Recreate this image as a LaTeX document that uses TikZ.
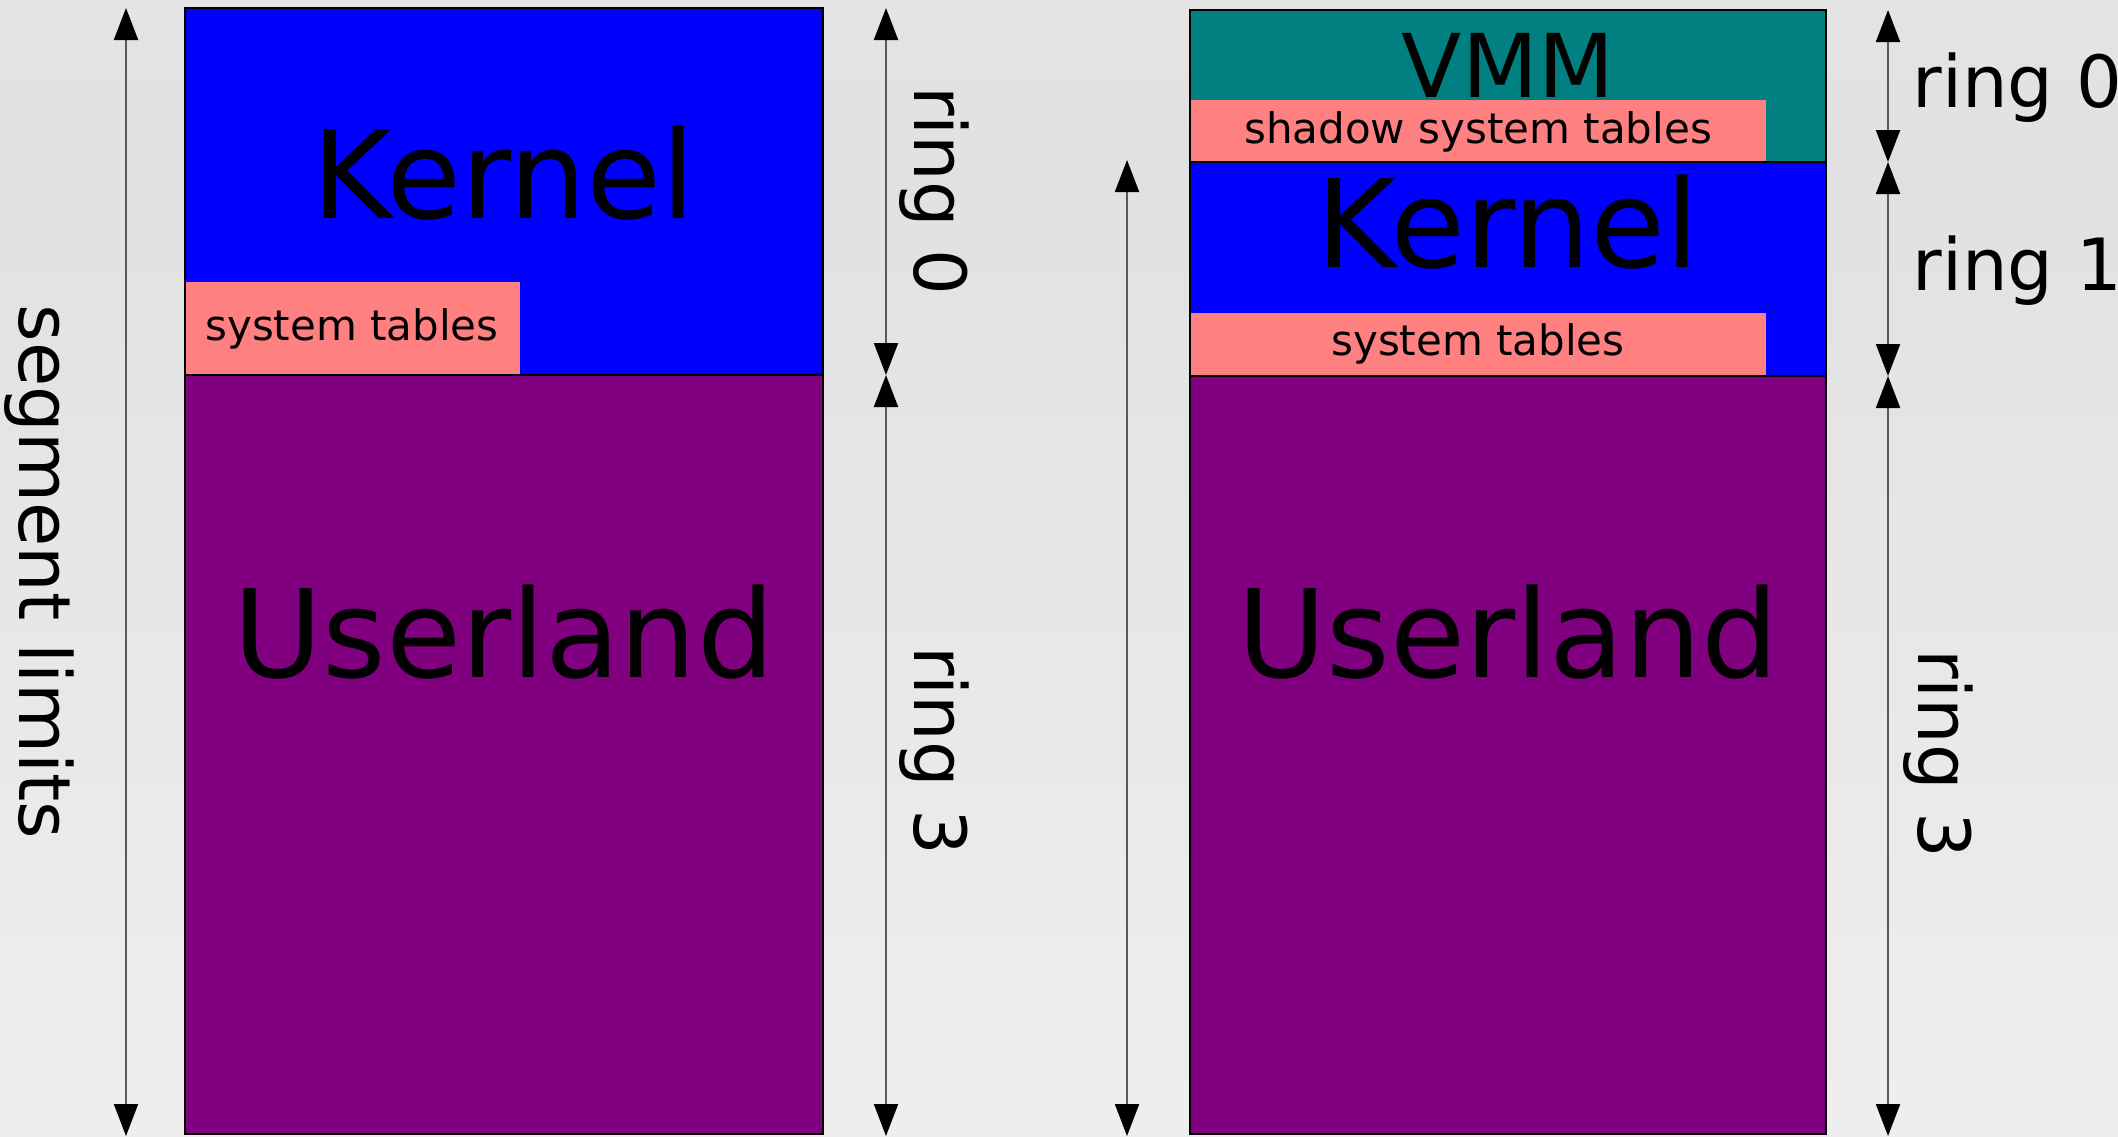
\documentclass[tikz,border=0pt]{standalone}
\usepackage{fontspec}
\setmainfont{DejaVu Sans}
\usetikzlibrary{arrows.meta}

\definecolor{kblue}{HTML}{0000FF}
\definecolor{upurple}{HTML}{800080}
\definecolor{vteal}{HTML}{008080}
\definecolor{tpink}{HTML}{FF8080}
\definecolor{bgtop}{HTML}{EEEEEE}
\definecolor{bgmid}{HTML}{E1E1E1}
\definecolor{bgbot}{HTML}{F6F6F6}

\pgfdeclareverticalshading{bgfade}{100bp}{color(0bp)=(bgbot); color(68bp)=(bgmid); color(100bp)=(bgtop)}

\tikzset{
  region/.style = {draw=black, line width=1pt},
  table/.style  = {fill=tpink},
  dimline/.style = {draw=black!65, line width=1pt,
                    {Triangle[length=16pt,width=12pt,black]}-{Triangle[length=16pt,width=12pt,black]}},
  bigtxt/.style  = {font=\fontsize{61pt}{62pt}\selectfont, anchor=base, inner sep=0pt},
  vmmtxt/.style  = {font=\fontsize{44pt}{45pt}\selectfont, anchor=base, inner sep=0pt},
  tabtxt/.style  = {font=\fontsize{21pt}{22pt}\selectfont, anchor=base, inner sep=0pt},
  ringtxt/.style = {font=\fontsize{36pt}{37pt}\selectfont, inner sep=0pt},
}

\begin{document}
\begin{tikzpicture}[x=0.5pt, y=-0.5pt]

  % background
  \shade[shading=bgfade] (0,0) rectangle (2118,1136);
  \useasboundingbox (0,0) rectangle (2118,1136);

  % --- native layout ---
  \draw[region, fill=kblue]   (185,8)   rectangle (823,375);
  \draw[region, fill=upurple] (185,375) rectangle (823,1134);
  \fill[table] (186,282) rectangle (520,374);

  \node[bigtxt] (kern) at (504,218) {Kernel};
  \node[tabtxt] (systab) at (352,340) {system tables};
  \node[bigtxt] (user) at (504,677) {Userland};

  % dimension arrows
  \coordinate (segtop) at (126,8);
  \coordinate (segbot) at (126,1136);
  \coordinate (ltop) at (886,8);
  \coordinate (lmid) at (886,375);
  \coordinate (lbot) at (886,1136);

  \draw[dimline] (segtop) -- (segbot);
  \draw[dimline] (ltop) -- (lmid);
  \draw[dimline] (lmid) -- (lbot);

  \node[ringtxt, rotate=-90, anchor=base] (seglab) at (19,572) {segment limits};
  \node[ringtxt, rotate=-90, anchor=base] (lring0) at (914,191) {ring 0};
  \node[ringtxt, rotate=-90, anchor=base] (lring3) at (914,751) {ring 3};

  % --- virtualized layout ---
  \draw[region, fill=vteal]   (1190,10)  rectangle (1826,162);
  \draw[region, fill=kblue]   (1190,162) rectangle (1826,376);
  \draw[region, fill=upurple] (1190,376) rectangle (1826,1134);
  \fill[table] (1191,100) rectangle (1766,161);
  \fill[table] (1191,313) rectangle (1766,375);

  \node[vmmtxt] (vmm) at (1508,97) {VMM};
  \node[tabtxt] (shadtab) at (1478,143) {shadow system tables};
  \node[bigtxt] (vkern) at (1508,267) {Kernel};
  \node[tabtxt] (vsystab) at (1478,355) {system tables};
  \node[bigtxt] (vuser) at (1508,677) {Userland};

  \coordinate (sidetop) at (1127,160);
  \coordinate (sidebot) at (1127,1136);
  \coordinate (rtop) at (1888,10);
  \coordinate (rone) at (1888,162);
  \coordinate (rthree) at (1888,376);
  \coordinate (rbot) at (1888,1136);

  \draw[dimline] (sidetop) -- (sidebot);
  \draw[dimline] (rtop) -- (rone);
  \draw[dimline] (rone) -- (rthree);
  \draw[dimline] (rthree) -- (rbot);

  \node[ringtxt, anchor=base west] (rring0) at (1912,107) {ring 0};
  \node[ringtxt, anchor=base west] (rring1) at (1912,290) {ring 1};
  \node[ringtxt, rotate=-90, anchor=base] (rring3) at (1918,754) {ring 3};

\end{tikzpicture}
\end{document}
